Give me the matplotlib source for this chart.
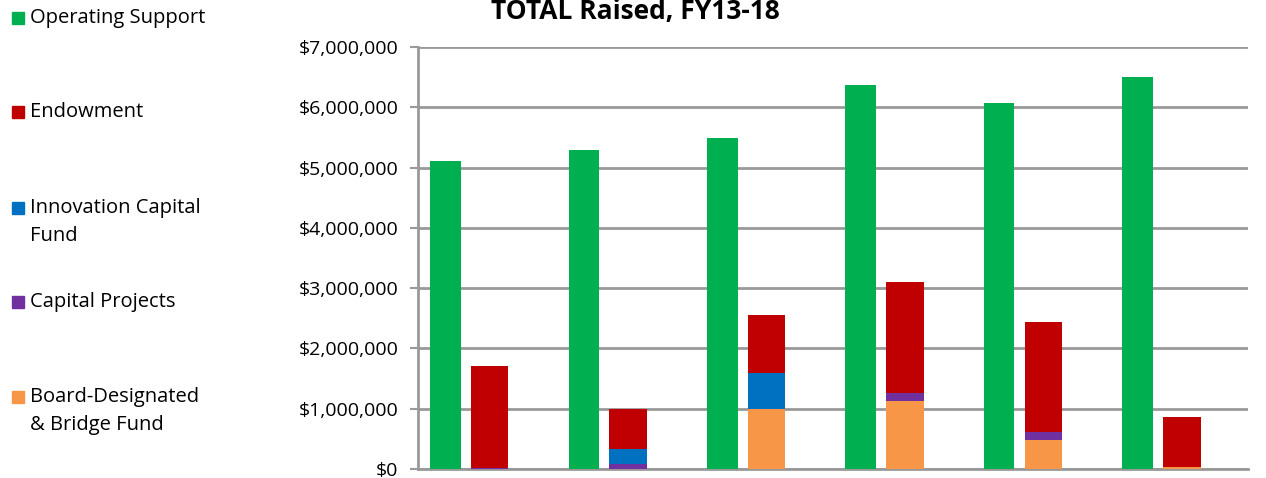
import matplotlib.pyplot as plt
import numpy as np
from matplotlib.patches import Rectangle
from matplotlib.ticker import FuncFormatter

plt.rcParams['font.family'] = ['Open Sans', 'DejaVu Sans']

years = ['FY13', 'FY14', 'FY15', 'FY16', 'FY17', 'FY18']
operating = [5.11e6, 5.29e6, 5.49e6, 6.37e6, 6.07e6, 6.50e6]
board_bridge = [0.0, 0.0, 0.99e6, 1.13e6, 0.48e6, 0.03e6]
capital_projects = [0.02e6, 0.09e6, 0.0, 0.13e6, 0.14e6, 0.0]
innovation = [0.0, 0.25e6, 0.60e6, 0.0, 0.0, 0.0]
endowment = [1.69e6, 0.66e6, 0.96e6, 1.84e6, 1.82e6, 0.83e6]

clr_operating = '#00B050'
clr_endowment = '#C00000'
clr_innovation = '#0070C0'
clr_capital = '#7030A0'
clr_board = '#F79646'

fig = plt.figure(figsize=(12.66, 4.78), dpi=100)
ax = fig.add_axes([0.330, 0.0188, 0.656, 0.883])

x = np.arange(len(years))
ax.bar(x - 0.30, operating, width=0.22, color=clr_operating, zorder=3)

# stacked bar: board-designated at the bottom, endowment on top
bottom = np.zeros(len(years))
for vals, clr in [(board_bridge, clr_board), (capital_projects, clr_capital),
                  (innovation, clr_innovation), (endowment, clr_endowment)]:
    ax.bar(x + 0.02, vals, width=0.27, bottom=bottom, color=clr, zorder=3)
    bottom += np.array(vals)

ax.set_xlim(-0.5, len(years) - 0.5)
ax.set_ylim(0, 7e6)
ax.set_yticks(np.arange(0, 7.5e6, 1e6))
ax.yaxis.set_major_formatter(FuncFormatter(lambda v, p: '${:,.0f}'.format(v)))
ax.set_xticks([])
ax.tick_params(axis='y', labelsize=14, length=6, width=1.5, color='#999999', pad=8)
ax.yaxis.grid(True, color='#999999', linewidth=2, zorder=0)
for s in ['top', 'right']:
    ax.spines[s].set_visible(False)
for s in ['left', 'bottom']:
    ax.spines[s].set_color('#999999')
    ax.spines[s].set_linewidth(2)

fig.text(0.502, 0.975, 'TOTAL Raised, FY13-18', ha='center', va='center',
         fontsize=19, fontweight='bold')

# legend on the left
legend_items = [
    ('Operating Support', clr_operating, 18),
    ('Endowment', clr_endowment, 112),
    ('Innovation Capital\nFund', clr_innovation, 208),
    ('Capital Projects', clr_capital, 302),
    ('Board-Designated\n& Bridge Fund', clr_board, 397),
]
H = 478
W = 1266
for label, clr, ypix in legend_items:
    fig.patches.append(Rectangle((12 / W, (H - ypix - 6) / H), 12 / W, 12 / H,
                                 color=clr, transform=fig.transFigure))
    for i, ln in enumerate(label.split('\n')):
        fig.text(30 / W, (H - ypix - 28 * i) / H, ln, ha='left', va='center', fontsize=14.5)

fig.savefig('out.png', dpi=100)
